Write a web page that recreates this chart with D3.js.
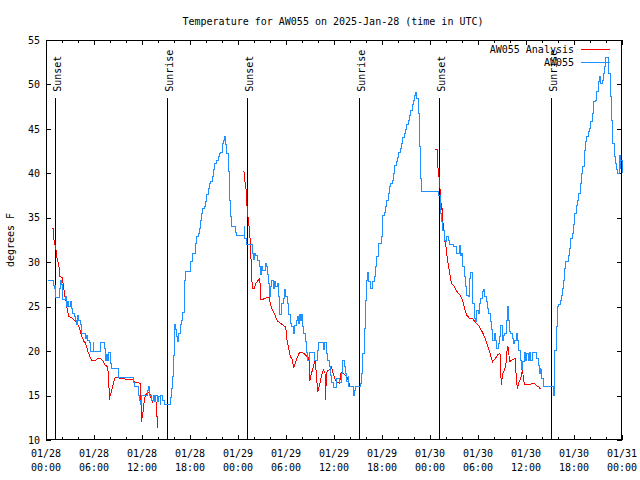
<!DOCTYPE html>
<html>
<head>
<meta charset="utf-8">
<script src="https://cdn.jsdelivr.net/npm/d3@7"></script>
<style>
  html, body { margin: 0; padding: 0; background: #fff; }
  svg { display: block; }
  text { font-family: "DejaVu Sans Mono", "Liberation Mono", monospace; font-size: 10px; fill: #000; }
</style>
</head>
<body>
<svg id="chart" width="640" height="480"></svg>
<script>
// ---- Data (hours after 2025-01-28 00:00 UTC, temperature in °F) ----
const titleText = "Temperature for AW055 on 2025-Jan-28 (time in UTC)";
const yLabel = "degrees F";
const seriesNames = ["AW055 Analysis", "AW055"];
const yTicks = [10, 15, 20, 25, 30, 35, 40, 45, 50, 55];
const sunsetHours = [1.18, 25.18, 49.18];
const sunriseHours = [15.18, 39.18, 63.18];

const obsHours = [0.2,0.83,0.9,1.0,1.1,1.2,1.55,1.65,1.8,1.9,2.0,2.1,2.3,2.4,2.5,2.65,2.8,3.0,3.15,3.3,3.5,3.65,3.8,3.9,4.05,4.25,4.4,4.8,4.9,5.05,5.15,5.4,5.55,5.85,5.9,5.95,6.65,6.75,7.15,7.3,7.4,7.55,7.7,7.85,8.0,8.15,8.9,9.0,10.85,10.92,11.0,11.45,11.5,11.65,11.8,11.95,12.5,12.65,12.8,12.95,13.2,13.4,13.55,13.7,13.9,14.05,14.25,14.35,14.55,14.75,15.3,15.5,15.65,15.8,15.9,16.0,16.05,16.15,16.3,16.45,16.55,16.75,16.95,17.1,17.25,17.33,17.42,17.92,18.0,18.1,18.25,18.5,18.67,18.75,19.0,19.17,19.33,19.42,19.58,19.75,19.92,20.08,20.25,20.42,20.58,20.75,20.92,21.08,21.33,21.5,21.67,21.83,22.0,22.17,22.29,22.42,22.58,22.75,22.92,23.08,23.17,23.58,23.67,23.83,24.67,24.75,24.83,25.0,25.67,25.75,25.92,26.05,26.21,26.375,26.625,26.79,26.96,27.1,27.375,27.54,27.71,27.79,27.96,28.04,28.21,28.375,28.54,28.71,28.875,29.04,29.21,29.46,29.625,29.79,29.96,30.125,30.29,30.54,30.7,30.96,31.1,31.29,31.46,31.55,31.71,31.85,31.96,32.04,32.2,32.375,32.54,32.71,32.875,33.375,33.54,33.7,33.875,34.04,34.54,34.7,34.85,35.04,35.2,35.375,35.54,35.7,35.875,36.125,36.29,36.54,36.7,36.875,37.04,37.25,37.42,37.6,37.75,37.85,38.2,38.4,38.55,38.7,39.1,39.25,39.42,39.58,39.75,39.92,40.0,40.17,40.33,40.5,40.67,40.83,41.0,41.17,41.33,41.58,41.75,41.92,42.0,42.08,42.25,42.42,42.58,42.75,42.92,43.08,43.25,43.42,43.58,43.75,43.92,44.08,44.25,44.42,44.58,44.75,44.92,45.08,45.25,45.42,45.58,45.75,45.92,46.08,46.2,46.33,46.5,46.67,46.83,46.92,49.0,49.1,49.25,49.33,49.42,49.58,49.75,49.92,50.08,50.25,50.42,50.75,50.92,51.1,51.25,51.5,51.67,51.75,51.92,52.08,52.25,52.42,52.58,52.75,52.92,53.08,53.25,53.33,53.5,53.67,53.83,54.0,54.17,54.33,54.5,54.67,54.83,55.0,55.17,55.33,55.5,55.67,55.83,56.0,56.17,56.33,56.5,56.67,56.83,57.0,57.17,57.33,57.5,57.67,57.75,57.92,58.08,58.25,58.42,58.58,58.75,58.92,59.08,59.25,59.42,59.58,59.75,59.92,60.08,60.25,60.42,60.58,60.75,61.17,61.33,61.5,61.67,61.75,61.83,61.92,62.17,63.25,63.42,63.5,63.58,63.75,63.92,64.08,64.25,64.42,64.58,64.67,64.75,64.92,65.08,65.25,65.42,65.58,65.75,65.92,66.08,66.25,66.42,66.58,66.75,66.92,67.08,67.25,67.42,67.58,67.75,67.92,68.08,68.25,68.42,68.67,68.83,69.0,69.17,69.33,69.5,69.67,69.83,69.92,70.17,70.33,70.5,70.67,70.83,71.0,71.17,71.33,71.42,71.58,71.67,71.75,71.83,72.0];
const obsTemps = [28,28,27.4,27,27.4,26,26,27,28,27.5,27,25.8,25.8,26.2,25,25.6,25,25.6,24.8,24.2,23.9,23.5,23,24,23.5,23,22,22,21.4,21.8,21.2,21,20,20,21,20,20,21,21,20.3,19,19.6,19,19.8,18.6,18,18,17,17,16.5,16,16,15,14.5,14,15,15,15.6,16,15,14.5,15,14.3,15,14.3,14.9,14,15,14.5,14,14,14.8,15.8,17.2,19.5,21.6,23,22.4,21.6,21.1,22,23,23.5,24.4,25.9,28,29,29,29.5,30.1,31,31,32.1,32.9,33.25,33.8,34.75,35.5,36.1,36.25,36.8,37.6,38.3,38.9,39.06,39.6,40.45,41.1,41.5,41.9,42.25,42.4,43.4,43.75,44.1,43.2,42.25,40.2,37,35.1,34,34,33.4,33,33,34,32.7,32,32,31,30.3,31,30.8,30.25,29.5,28.6,29.5,29.1,29.9,29.5,28.6,27.6,26.1,27.25,28,27.1,27.8,27.25,27.6,26.1,24.1,25.4,25.9,26.9,26.1,25.4,24.1,23.1,22.75,22,22.9,23.5,23.9,23.1,24.1,23.5,24.1,22.75,22,21.06,19.9,19,19.9,19.9,19,19,20.1,21,21,20.2,21,19.75,19,18.25,17.3,16.45,15.9,15.9,16.9,16.9,16.45,17.5,18.9,18.3,17.5,16.6,17.1,16,16,15,15.6,16,16,16.4,17.5,19.75,22.6,25.75,28,28.9,27.8,27,27,27.8,28.4,29.5,30.6,32.1,32.1,32.9,34.4,35.3,35.6,36.25,37,37.75,38.5,38.9,39.25,40,40.9,41.3,41.8,42.4,42.8,43.4,44.05,44.5,44.95,45.44,46,46.56,47.1,47.7,48.25,48.8,49.1,48.4,46.75,43,39.4,38,38,37.5,36.6,35.5,34.6,33.55,32.5,32.3,32.9,32.5,32,32,31.75,31.75,31,31,31.9,30.8,31,29.5,28.4,27.25,26.3,26.1,28.2,28.9,27.25,25.4,23.7,23.3,24.6,24.25,25.4,25.9,26.7,26.9,26.1,25.6,24.8,24.25,23.3,22.4,21.25,22,21.25,20.3,20.9,21.6,22.9,21.25,21.8,22,23.5,25,23.5,22.2,22,21.4,20.9,21.25,22,21.25,20.1,19,17.9,18.8,19.9,19,19.75,19,19.9,19,19.9,19.9,19.2,18.4,17.5,18,17.9,16.9,16,16,15.06,17.1,20.1,22.75,25,25.2,25.75,26.3,27.05,28,29.3,30.06,30.06,30.8,31.56,32.7,33.25,34.2,35.5,36.4,37,37.75,38.9,40,40.75,42.6,43.6,44.1,44.7,45.06,45.8,46.75,48.06,48.25,49.2,50.3,50.9,50.1,50.5,51.25,52,53,53,51.25,48.6,46,43.4,41.9,41.1,40.4,40,40,42,40.6,41.5,40];

const anaHours1 = [0.75,0.92,1.0,1.1,1.25,1.35,1.5,1.67,1.75,2.0,2.17,2.33,2.5,2.67,2.83,3.17,3.42,3.75,3.92,4.17,4.33,4.5,4.75,4.92,5.08,5.25,5.42,5.67,6.25,6.5,6.92,7.17,7.42,7.67,7.83,7.92,8.0,8.17,8.42,8.67,9.0,9.25,10.75,10.92,11.17,11.83,11.92,12.08,12.25,12.42,12.67,12.92,13.08,13.33,13.58,13.83,13.92];
const anaTemps1 = [33.8,33.8,32.5,32.1,31.4,30.6,30.06,29.3,28.4,28.3,27.4,26.3,25.6,24.6,23.9,23.8,23.6,23.3,23.1,22.6,22.1,21.6,21.06,20.95,20.5,19.9,19.56,19,19,19.2,19.1,18.8,18.4,18.25,17.3,14.5,14.9,15.4,16.4,17.05,17.05,16.9,16.8,16.7,16.45,16.4,12.06,12.8,14.1,15.06,15.25,15.4,14.9,14.3,14.7,14.1,11.3];
const anaHours2 = [24.625,24.75,24.83,25.0,25.1,25.17,25.29,25.46,25.54,25.625,25.79,26.0,26.21,26.54,26.71,26.79,26.875,27.375,27.71,27.875,28.04,28.21,28.46,28.625,28.79,29.04,29.46,29.79,29.96,30.125,30.375,30.54,30.79,30.96,31.2,31.46,31.71,31.96,32.29,32.54,32.7,32.875,32.96,33.125,33.375,33.625,33.79,33.96,34.125,34.29,34.46,34.7,34.875,34.96,35.04,35.2,35.46,35.7,35.875,36.125,36.375,36.7,36.875,37.04,37.375,37.625,37.79,37.96];
const anaTemps2 = [40.26,40.2,39.25,38.3,36.5,35.9,34.75,33.4,32.1,30.4,27,27,27.6,28,28.2,27.06,25.8,25.9,26.05,26.1,25.4,24.8,24.4,24.1,23.6,23.3,23.05,22.8,22.75,21.25,20.1,19.4,19.1,18.1,18.8,19.4,19.9,19.9,19.7,19.45,19.4,19,16.6,17.3,18.1,19,17.5,15.4,16,16.6,17.3,17.9,17.5,14.5,17.5,17.8,17.9,18.2,17.5,16.9,16.45,16.4,17.5,17.6,17.3,17.1,16.6,16.1];
const anaHours3 = [48.67,48.92,49.0,49.08,49.17,49.25,49.33,49.42,49.5,49.58,49.75,49.83,50.0,50.17,50.33,50.5,50.67,50.92,51.17,51.5,51.75,52.0,52.17,52.33,52.58,52.92,53.42,53.58,53.83,54.17,54.5,54.83,55.17,55.5,55.83,56.17,56.5,56.75,56.83,56.92,57.08,57.33,57.5,57.67,57.83,57.92,58.25,58.67,58.75,58.92,59.08,59.33,59.58,59.67,59.83,60.33,60.67,61.0,61.33,61.58,61.75,61.92];
const anaTemps3 = [42.7,42.7,40.56,40,39.25,38.3,37.4,36,36.1,34.75,33.6,32.5,31.75,30.4,29.5,28.6,27.6,27.4,27.05,26.5,26.3,25.9,25.4,24.8,24.06,23.7,23.6,23.3,23.1,22.75,22.2,21.6,20.7,19.75,18.8,19.2,19.6,19.75,17.9,16.2,17.5,17.9,18.6,20.5,20.3,18.8,19,19.2,17.5,15.8,16.4,16.9,17.9,16.9,16.2,16.2,16.3,16.4,16.1,16,15.8,15.7];

// ---- Layout ----
const W = 640, H = 480;
const margin = { left: 46, right: 18, top: 40, bottom: 40 };
const base = Date.UTC(2025, 0, 28, 0, 0);
const toDate = h => new Date(base + h * 3600e3);

const x = d3.scaleUtc()
  .domain([toDate(0), toDate(72)])
  .range([margin.left, W - margin.right]);
const y = d3.scaleLinear()
  .domain([10, 55])
  .range([H - margin.bottom, margin.top]);

const svg = d3.select("#chart");
const blue = "#1e90ff", red = "#ff0000";

// Title
svg.append("text")
  .attr("x", 333).attr("y", 24.5)
  .attr("text-anchor", "middle")
  .text(titleText);

// Y label
svg.append("text")
  .attr("transform", "translate(14,240) rotate(-90)")
  .attr("text-anchor", "middle")
  .text(yLabel);

// Axes (ticks pointing inward, mirrored)
const majorT = d3.utcHour.every(6);
const minorT = d3.utcHour.every(2);
const fmtDate = d3.utcFormat("%m/%d"), fmtTime = d3.utcFormat("%H:%M");

const gB = svg.append("g").attr("transform", `translate(0,${H - margin.bottom})`)
  .call(d3.axisBottom(x).ticks(majorT).tickSize(-5).tickFormat(""));
const gBm = svg.append("g").attr("transform", `translate(0,${H - margin.bottom})`)
  .call(d3.axisBottom(x).ticks(minorT).tickSize(-3).tickFormat(""));
const gT = svg.append("g").attr("transform", `translate(0,${margin.top})`)
  .call(d3.axisTop(x).ticks(majorT).tickSize(-5).tickFormat(""));
const gTm = svg.append("g").attr("transform", `translate(0,${margin.top})`)
  .call(d3.axisTop(x).ticks(minorT).tickSize(-3).tickFormat(""));
const gL = svg.append("g").attr("transform", `translate(${margin.left},0)`)
  .call(d3.axisLeft(y).tickValues(yTicks).tickSize(-5).tickFormat(d3.format("d")));
const gR = svg.append("g").attr("transform", `translate(${W - margin.right},0)`)
  .call(d3.axisRight(y).tickValues(yTicks).tickSize(-5).tickFormat(""));

[gB, gBm, gT, gTm, gL, gR].forEach(g => {
  g.select(".domain").remove();
  g.selectAll("line").attr("stroke", "#000").attr("shape-rendering", "crispEdges");
  g.selectAll("text").attr("font-family", null).attr("font-size", null);
});
gL.selectAll("text").attr("x", -6).attr("fill", "#000");

// Bottom two-line labels
const xLab = svg.append("g");
x.ticks(majorT).forEach(d => {
  const t = xLab.append("text").attr("text-anchor", "middle");
  t.append("tspan").attr("x", x(d)).attr("y", 456.5).text(fmtDate(d));
  t.append("tspan").attr("x", x(d)).attr("y", 470.5).text(fmtTime(d));
});

// Frame
svg.append("rect")
  .attr("x", margin.left + 0.5).attr("y", margin.top + 0.5)
  .attr("width", W - margin.left - margin.right - 1)
  .attr("height", H - margin.top - margin.bottom - 1)
  .attr("fill", "none").attr("stroke", "#000").attr("shape-rendering", "crispEdges");

// Sunrise / Sunset markers
const markTop = 48.5;
const marks = sunsetHours.map(h => ({ h, label: "Sunset" }))
  .concat(sunriseHours.map(h => ({ h, label: "Sunrise" })));
marks.forEach(m => {
  const px = x(toDate(m.h));
  svg.append("line")
    .attr("x1", px).attr("x2", px)
    .attr("y1", y(markTop)).attr("y2", y(10))
    .attr("stroke", "#000").attr("shape-rendering", "crispEdges");
  svg.append("text")
    .attr("transform", `translate(${px + 5.5},${y(markTop) - 6}) rotate(-90)`)
    .attr("text-anchor", "start")
    .text(m.label);
});

// Series lines
const lineLin = d3.line()
  .x(d => x(toDate(d[0])))
  .y(d => y(d[1]));
const lineStep = d3.line()
  .curve(d3.curveStepAfter)
  .x(d => x(toDate(d[0])))
  .y(d => y(d[1]));

[[anaHours1, anaTemps1], [anaHours2, anaTemps2], [anaHours3, anaTemps3]].forEach(([hs, ts]) => {
  svg.append("path")
    .datum(d3.zip(hs, ts))
    .attr("fill", "none").attr("stroke", red).attr("stroke-width", 1)
    .attr("shape-rendering", "crispEdges")
    .attr("d", lineLin);
});
svg.append("path")
  .datum(d3.zip(obsHours, obsTemps))
  .attr("fill", "none").attr("stroke", blue).attr("stroke-width", 1)
  .attr("shape-rendering", "crispEdges")
  .attr("d", lineStep);

// Legend
const legend = [{ name: seriesNames[0], color: red, yy: 49.5 }, { name: seriesNames[1], color: blue, yy: 62.5 }];
legend.forEach(l => {
  svg.append("text").attr("x", 574).attr("y", l.yy + 3.6).attr("text-anchor", "end").text(l.name);
  svg.append("line").attr("x1", 581).attr("x2", 610).attr("y1", l.yy).attr("y2", l.yy)
    .attr("stroke", l.color).attr("shape-rendering", "crispEdges");
});
</script>
</body>
</html>
